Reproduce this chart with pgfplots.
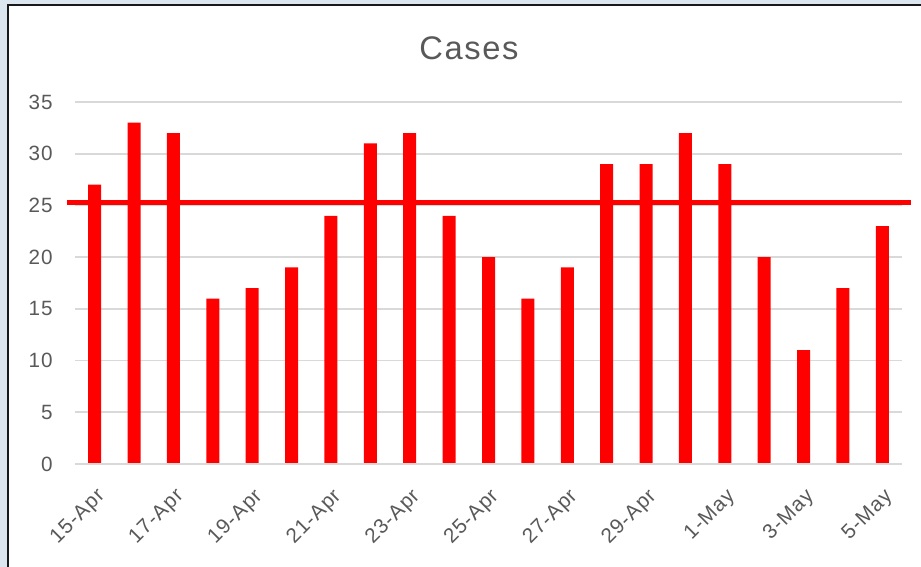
\documentclass[border=0pt]{standalone}
\usepackage{pgfplots}
\pgfplotsset{compat=1.18}
\usepackage{fontspec}
\setmainfont{Liberation Sans}[LetterSpace=5]
\definecolor{bgblue}{HTML}{DCE6F1}
\definecolor{txtgray}{HTML}{595959}
\definecolor{gridgray}{HTML}{D9D9D9}
\definecolor{barred}{HTML}{FF0000}
\begin{document}
\begin{tikzpicture}
\fill[bgblue] (0,0) rectangle (690.75pt,425.25pt);
\fill[white] (6.75pt,0) rectangle (690.75pt,420.75pt);
\draw[line width=1.5pt,black!90] (6pt,0) -- (6pt,421.5pt) -- (690.75pt,421.5pt);
\node[text=txtgray,font=\fontsize{24.5}{30}\selectfont] at (351.75pt,389.25pt) {Cases};
\begin{axis}[
  at={(56.25pt,77.25pt)}, anchor=south west,
  width=620.25pt, height=271.5pt, scale only axis,
  xmin=-0.5, xmax=20.5, ymin=0, ymax=35,
  clip=false,
  axis line style={draw=none},
  axis x line*=bottom,
  ytick={0,5,...,35},
  xtick={0,2,...,20},
  xticklabels={15-Apr,17-Apr,19-Apr,21-Apr,23-Apr,25-Apr,27-Apr,29-Apr,1-May,3-May,5-May},
  major tick length=0pt,
  ymajorgrids,
  grid style={gridgray,line width=1.3pt},
  /pgf/number format/assume math mode=true,
  tick label style={text=txtgray,font=\fontsize{15.5}{18}\selectfont},
  yticklabel style={inner sep=0pt,xshift=-16.5pt},
  xticklabel style={inner sep=0pt,xshift=0.5pt,yshift=-17pt,rotate=45,anchor=north east},
]
\addplot[ybar,bar width=9.75pt,fill=barred,draw=none] coordinates {
(0,27) (1,33) (2,32) (3,16) (4,17) (5,19) (6,24) (7,31) (8,32) (9,24) (10,20)
(11,16) (12,19) (13,29) (14,29) (15,32) (16,29) (17,20) (18,11) (19,17) (20,23)};
\addplot[barred,line width=3.75pt] coordinates {(-0.7,25.25) (20.73,25.25)};
\draw[gridgray,line width=1.3pt] (axis cs:-0.5,0) -- (axis cs:20.5,0);
\end{axis}
\pgfresetboundingbox
\useasboundingbox (0,0) rectangle (690.75pt,425.25pt);
\end{tikzpicture}
\end{document}
